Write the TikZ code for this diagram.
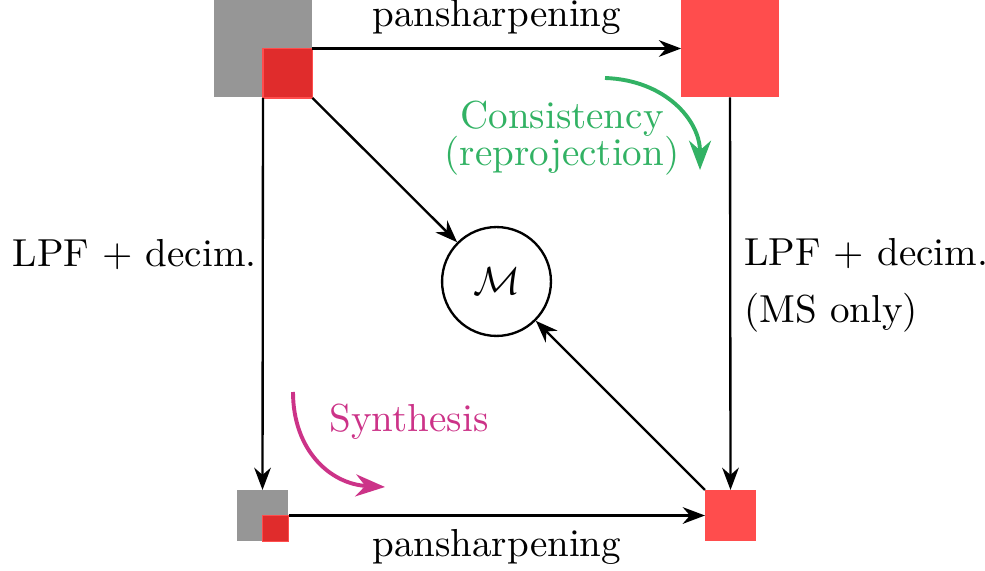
\documentclass[tikz,border=0pt]{standalone}
\usepackage{amsmath}
\usetikzlibrary{arrows.meta}
\definecolor{pancol}{RGB}{150,150,150}
\definecolor{mscol}{RGB}{255,77,77}
\definecolor{msdarkcol}{RGB}{224,44,44}
\definecolor{conscol}{RGB}{50,178,100}
\definecolor{synthcol}{RGB}{204,51,136}
\tikzset{
  bigsq/.style={minimum size=8.8mm, inner sep=0pt, outer sep=0pt},
  smallsq/.style={minimum size=4.45mm, inner sep=0pt, outer sep=0pt},
  midsq/.style={minimum size=4.6mm, inner sep=0pt, outer sep=0pt},
  tinysq/.style={minimum size=2.35mm, inner sep=0pt, outer sep=0pt},
  metric/.style={circle, draw, semithick, minimum size=9.8mm, inner sep=0pt}
}

\begin{document}
\begin{tikzpicture}[x=0.09mm, y=-0.09mm, >=Stealth]

  \useasboundingbox (0,0) rectangle (985,571);

  % Full resolution pair (PAN + MS).
  \node[bigsq, fill=pancol] (panhr) at (263,48.5) {};
  \node[smallsq, fill=msdarkcol, draw=mscol, anchor=north west] (mshr) at (panhr.center) {};

  % Fused image.
  \node[bigsq, fill=mscol] (fused) at (730,48.5) {};

  % Reduced resolution pair.
  \node[midsq, fill=pancol] (panlr) at (262.5,515.5) {};
  \node[tinysq, fill=msdarkcol, draw=mscol, anchor=north west] (mslr) at (panlr.center) {};
  \node[midsq, fill=mscol] (fusedlr) at (730.5,515.5) {};

  % Metric.
  \node[metric] (M) at (496.5,281.5) {$\mathcal{M}$};

  % Pansharpening arrows.
  \draw[->, semithick] (mshr.north east) -- (fused.west)
    node[midway, above] {pansharpening};
  \draw[->, semithick] (mslr.north east) -- (fusedlr.west)
    node[midway, below] {pansharpening};

  % Degradation arrows.
  \draw[->, semithick] (mshr.south west) -- (panlr.north)
    node[pos=0.4, left, xshift=2pt] {LPF + decim.};
  \draw[->, semithick] (fused.south) -- (fusedlr.north)
    node[pos=0.48, right, align=left] {LPF + decim.\\[2.6pt](MS only)};

  % Into the metric.
  \draw[->, semithick] (mshr.south east) -- (M);
  \draw[->, semithick] (fusedlr.north west) -- (M);

  % Consistency (reprojection).
  \coordinate (consA) at (605,78);
  \coordinate (consB) at (700,170);
  \draw[->, line width=1pt, conscol] (consA) .. controls (665,80) and (700,120) .. (consB);
  \node[conscol, align=center] (cons) at (562,138) {Consistency\\[-2.5pt](reprojection)};

  % Synthesis.
  \coordinate (synA) at (293,392);
  \coordinate (synB) at (385,487);
  \draw[->, line width=1pt, synthcol] (synA) .. controls (293,450) and (330,484) .. (synB);
  \node[synthcol] (synth) at (409,422) {Synthesis};

\end{tikzpicture}
\end{document}
